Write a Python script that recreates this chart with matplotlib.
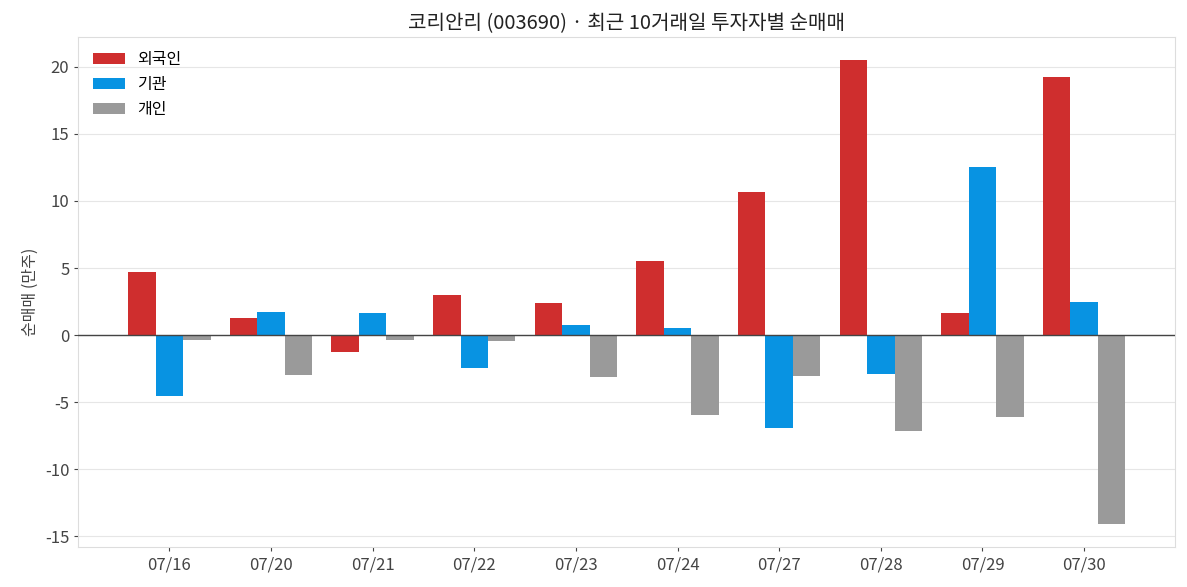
import matplotlib
matplotlib.use("Agg")
import matplotlib.pyplot as plt
import numpy as np

plt.rcParams['font.family'] = ['Noto Sans CJK KR', 'DejaVu Sans']
plt.rcParams['axes.unicode_minus'] = False

dates = ["07/16", "07/20", "07/21", "07/22", "07/23", "07/24", "07/27", "07/28", "07/29", "07/30"]
foreign = [4.73, 1.30, -1.24, 3.00, 2.42, 5.54, 10.70, 20.50, 1.67, 19.25]
institution = [-4.55, 1.75, 1.67, -2.44, 0.77, 0.52, -6.94, -2.89, 12.50, 2.47]
individual = [-0.33, -2.97, -0.33, -0.47, -3.12, -5.97, -3.04, -7.16, -6.11, -14.08]

fig, ax = plt.subplots(figsize=(11.87, 5.87), dpi=100)
fig.subplots_adjust(left=0.066, right=0.99, top=0.937, bottom=0.068)

x = np.arange(len(dates))
w = 0.27
ax.bar(x - w, foreign, w, color='#cf2e2e', label='외국인', zorder=3)
ax.bar(x, institution, w, color='#0893e2', label='기관', zorder=3)
ax.bar(x + w, individual, w, color='#9a9a9a', label='개인', zorder=3)

ax.axhline(0, color='#444444', linewidth=1, zorder=4)
ax.set_xticks(x)
ax.set_xticklabels(dates)
ax.yaxis.grid(True, color='#e6e6e6', linewidth=0.8, zorder=0)
ax.set_axisbelow(True)
for s in ax.spines.values():
    s.set_color('#dddddd')
ax.tick_params(colors='#444444', labelsize=12)
ax.tick_params(axis='both', length=3, color='#444444')

ax.set_ylabel('순매매 (만주)', fontsize=11.5, color='#444444')
ax.set_title('코리안리 (003690) · 최근 10거래일 투자자별 순매매', fontsize=14.5, color='#222222')
ax.legend(loc='upper left', frameon=False, fontsize=11.5)

plt.savefig('out.png', dpi=100)
